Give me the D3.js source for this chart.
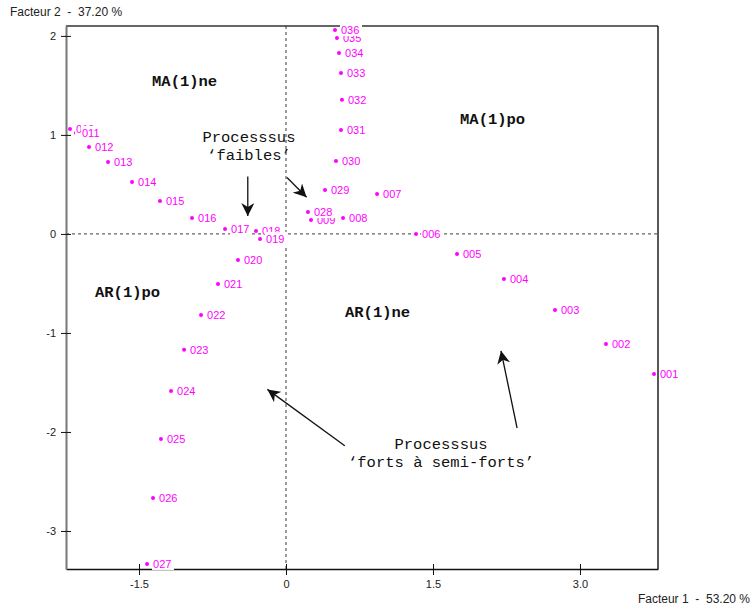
<!DOCTYPE html>
<html><head><meta charset="utf-8">
<script src="https://cdn.jsdelivr.net/npm/d3@7"></script>
<style>body{margin:0;background:#fff}svg{display:block}</style>
</head><body>
<svg id="c" width="753" height="609"></svg>
<script>
const labels = ["001","002","003","004","005","006","007","008","009","010","011","012","013","014","015","016","017","018","019","020","021","022","023","024","025","026","027","028","029","030","031","032","033","034","035","036"];
const f1 = [3.755,3.265,2.745,2.224,1.745,1.327,0.929,0.582,0.255,-2.204,-2.143,-2.01,-1.816,-1.571,-1.286,-0.959,-0.622,-0.306,-0.265,-0.49,-0.694,-0.867,-1.04,-1.173,-1.276,-1.357,-1.418,0.224,0.398,0.51,0.561,0.571,0.561,0.541,0.52,0.5];
const f2 = [-1.414,-1.111,-0.768,-0.455,-0.202,0.0,0.404,0.162,0.14,1.06,1.02,0.879,0.727,0.525,0.333,0.162,0.05,0.03,-0.05,-0.263,-0.505,-0.818,-1.17,-1.586,-2.07,-2.667,-3.333,0.222,0.444,0.737,1.05,1.354,1.626,1.828,1.98,2.06];
const xTicks = [-1.5, 0, 1.5, 3.0];
const xTickLabels = ["-1.5","0","1.5","3.0"];
const yTicks = [2, 1, 0, -1, -2, -3];
const yTickLabels = ["2","1","0","-1","-2","-3"];
const xTitle = "Facteur 1  -  53.20 %";
const yTitle = "Facteur 2  -  37.20 %";
const quadrants = [
  {t:"MA(1)ne", x:-1.367, y:1.49},
  {t:"MA(1)po", x:1.776, y:1.11},
  {t:"AR(1)po", x:-1.949, y:-0.637},
  {t:"AR(1)ne", x:0.602, y:-0.84}
];
const notes = [
  {lines:["Processsus","\u2018faibles\u2019"], x:-0.378, y:0.93},
  {lines:["Processsus","\u2018forts \u00e0 semi-forts\u2019"], x:1.582, y:-2.17}
];
const arrows = [
  {x1:-0.39, y1:0.58, x2:-0.39, y2:0.18},
  {x1:0.01, y1:0.57, x2:0.21, y2:0.37},
  {x1:0.6, y1:-2.14, x2:-0.19, y2:-1.57},
  {x1:2.358, y1:-1.96, x2:2.194, y2:-1.18}
];

const svg = d3.select("#c");
const L = 66, R = 658, T = 26, B = 569;
const x = d3.scaleLinear().domain([-2.245, 3.796]).range([L, R]);
const y = d3.scaleLinear().domain([2.1, -3.384]).range([T, B]);
const sans = "Liberation Sans, Arial, sans-serif";
const mono = "Liberation Mono, Courier New, monospace";

// dashed zero lines
svg.append("line").attr("x1", x(0)).attr("x2", x(0)).attr("y1", T).attr("y2", B)
  .attr("stroke", "#666").attr("stroke-width", 1.3).attr("stroke-dasharray", "3,3");
svg.append("line").attr("x1", L).attr("x2", R).attr("y1", y(0)).attr("y2", y(0))
  .attr("stroke", "#666").attr("stroke-width", 1.3).attr("stroke-dasharray", "3,3");

// frame
svg.append("line").attr("x1", L).attr("x2", R).attr("y1", T).attr("y2", T).attr("stroke", "#333").attr("stroke-width", 1.4);
svg.append("line").attr("x1", R).attr("x2", R).attr("y1", T).attr("y2", B).attr("stroke", "#111").attr("stroke-width", 1.4);

// axes
const xAxis = d3.axisBottom(x).tickValues(xTicks).tickFormat((d,i)=>xTickLabels[i]).tickSizeInner(6).tickSizeOuter(0).tickPadding(5);
const gx = svg.append("g").attr("transform", `translate(0,${B})`).call(xAxis);
gx.select(".domain").attr("stroke", "#111").attr("stroke-width", 1.4);
gx.selectAll(".tick line").attr("stroke", "#111").attr("y1", -5);
gx.selectAll("text").attr("font-family", sans).attr("font-size", 11).attr("fill", "#222");

const yAxis = d3.axisLeft(y).tickValues(yTicks).tickFormat((d,i)=>yTickLabels[i]).tickSizeInner(5).tickSizeOuter(0).tickPadding(5);
const gy = svg.append("g").attr("transform", `translate(${L},0)`).call(yAxis);
gy.select(".domain").attr("stroke", "#777").attr("stroke-width", 2);
gy.selectAll(".tick line").attr("stroke", "#111").attr("x2", 5).attr("x1", -5);
gy.selectAll("text").attr("font-family", sans).attr("font-size", 11).attr("fill", "#222");

// titles
svg.append("text").attr("x", 10).attr("y", 16).text(yTitle).style("white-space", "pre")
  .attr("font-family", sans).attr("font-size", 12).attr("fill", "#222");
svg.append("text").attr("x", 750).attr("y", 603).attr("text-anchor", "end").text(xTitle).style("white-space", "pre")
  .attr("font-family", sans).attr("font-size", 12).attr("fill", "#222");

// points
const data = labels.map((l,i)=>({l, a:f1[i], b:f2[i]}));
svg.append("g").selectAll("circle").data(data).join("circle")
  .attr("cx", d=>x(d.a)).attr("cy", d=>y(d.b)).attr("r", 2).attr("fill", "#ff00ff");
const lg = svg.append("g");
data.forEach(d=>{
  const g = lg.append("g");
  const tx = x(d.a)+5, ty = y(d.b)+4;
  g.append("rect").attr("x", tx).attr("y", ty-11).attr("width", 22).attr("height", 13).attr("fill", "#fff");
  g.append("text").attr("x", tx+1).attr("y", ty).text(d.l)
    .attr("font-family", sans).attr("font-size", 11).attr("fill", "#ff00ff");
});

// quadrant labels
svg.append("g").selectAll("text").data(quadrants).join("text")
  .attr("x", d=>x(d.x)).attr("y", d=>y(d.y)).text(d=>d.t)
  .attr("font-family", mono).attr("font-weight", "bold").attr("font-size", 15.5).attr("fill", "#111");

// notes
notes.forEach(n=>{
  n.lines.forEach((ln,i)=>{
    svg.append("text").attr("x", x(n.x)).attr("y", y(n.y)+i*18).attr("text-anchor","middle").text(ln)
      .attr("font-family", mono).attr("font-size", 15.5).attr("fill", "#111");
  });
});

// arrows
svg.append("defs").append("marker").attr("id","ah").attr("viewBox","0 0 10 10").attr("refX",10).attr("refY",5)
  .attr("markerWidth",13).attr("markerHeight",13).attr("markerUnits","userSpaceOnUse").attr("orient","auto")
  .append("path").attr("d","M0,0 L10,5 L0,10 L3,5 Z").attr("fill","#111");
svg.append("g").selectAll("line").data(arrows).join("line")
  .attr("x1", d=>x(d.x1)).attr("y1", d=>y(d.y1)).attr("x2", d=>x(d.x2)).attr("y2", d=>y(d.y2))
  .attr("stroke","#111").attr("stroke-width",1.3).attr("marker-end","url(#ah)");
</script>
</body></html>
